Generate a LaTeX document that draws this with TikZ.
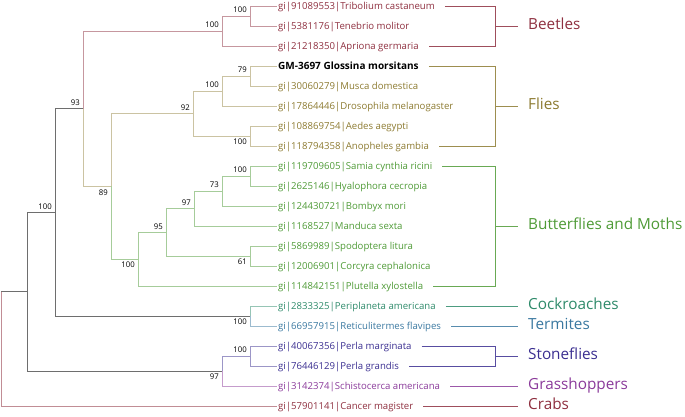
\documentclass[tikz,border=0pt]{standalone}
\usepackage{fontspec}
\setmainfont{Open Sans}
\usepackage{tikz}
\usetikzlibrary{calc}

\definecolor{beetle}{HTML}{8E2F3F}
\definecolor{fly}{HTML}{8C7A30}
\definecolor{moth}{HTML}{4E9A36}
\definecolor{roach}{HTML}{2E8A6A}
\definecolor{termite}{HTML}{3A78A0}
\definecolor{stone}{HTML}{3A2E90}
\definecolor{hopper}{HTML}{8A3A9A}
\definecolor{crab}{HTML}{8E2F3F}
\definecolor{stem}{HTML}{6E6E6E}

\begin{document}
\begin{tikzpicture}[
    x=1pt, y=-1pt,
    leaf/.style={anchor=west, inner sep=1pt, text height=1.6ex, text depth=0.45ex, font=\fontsize{9.6}{10}\selectfont},
    query/.style={leaf, font=\fontsize{10}{10}\selectfont\bfseries},
    clade/.style={anchor=west, inner sep=1pt, text height=1.6ex, text depth=0.3ex, font=\fontsize{15.3}{17}\selectfont},
    boot/.style={inner sep=0pt, font=\fontsize{7.8}{8}\selectfont},
    branch/.style={line width=0.8pt},
    bracket/.style={line width=1pt}
]
    \useasboundingbox (0,0) rectangle (685,416);

    \foreach \i/\lab/\col in {0/{gi|91089553|Tribolium castaneum}/beetle,
        1/{gi|5381176|Tenebrio molitor}/beetle,
        2/{gi|21218350|Apriona germaria}/beetle,
        4/{gi|30060279|Musca domestica}/fly,
        5/{gi|17864446|Drosophila melanogaster}/fly,
        6/{gi|108869754|Aedes aegypti}/fly,
        7/{gi|118794358|Anopheles gambia}/fly,
        8/{gi|119709605|Samia cynthia ricini}/moth,
        9/{gi|2625146|Hyalophora cecropia}/moth,
        10/{gi|124430721|Bombyx mori}/moth,
        11/{gi|1168527|Manduca sexta}/moth,
        12/{gi|5869989|Spodoptera litura}/moth,
        13/{gi|12006901|Corcyra cephalonica}/moth,
        14/{gi|114842151|Plutella xylostella}/moth,
        15/{gi|2833325|Periplaneta americana}/roach,
        16/{gi|66957915|Reticulitermes flavipes}/termite,
        17/{gi|40067356|Perla marginata}/stone,
        18/{gi|76446129|Perla grandis}/stone,
        19/{gi|3142374|Schistocerca americana}/hopper,
        20/{gi|57901141|Cancer magister}/crab} {
        \node[leaf, text=\col] (l\i) at (277,{6+20*\i}) {\lab};
    }
    \node[query] (l3) at (277,66) {GM-3697 Glossina morsitans};

    \foreach \n/\x/\y in {R/1/348.8, A/27/291.7, B/55/212.3, C/83/108.7, Be/222/31, Be2/250/16,
        D/111/186.3, F/193/113.5, F1/222/91, F0/250/76, F2/250/136, L/138/259.1, M/166/232.3,
        N/194/208.5, O/222/191, P/250/176, SC/250/256, CT/250/316, S/222/371, T/250/356} {
        \coordinate (\n) at (\x,\y);
    }

    \foreach \p/\c/\col in {R/A/stem, R/l20/crab!55, A/B/stem, A/S/stem, B/C/stem, B/CT/stem,
        C/Be/beetle!50, C/D/fly!45, Be/Be2/beetle!50, Be/l2/beetle!50, Be2/l0/beetle!50, Be2/l1/beetle!50,
        D/F/fly!45, D/L/moth!50, F/F1/fly!45, F/F2/fly!45, F1/F0/fly!45, F1/l5/fly!45,
        F0/l3/fly!45, F0/l4/fly!45, F2/l6/fly!45, F2/l7/fly!45,
        L/M/moth!50, L/l14/moth!50, M/N/moth!50, M/SC/moth!50, N/O/moth!50, N/l11/moth!50,
        O/P/moth!50, O/l10/moth!50, P/l8/moth!50, P/l9/moth!50, SC/l12/moth!50, SC/l13/moth!50,
        CT/l15/roach!50, CT/l16/termite!50, S/T/stone!50, S/l19/hopper!50,
        T/l17/stone!50, T/l18/stone!50} {
        \draw[branch, draw=\col] (\p) |- (\c);
    }
    \draw[branch, draw=crab!55] (R |- A) -- (R);

    \foreach \c/\v in {B/100, C/93, Be/100, Be2/100, F/92, F1/100, F0/79, M/95, N/97, O/73, P/100, T/100} {
        \node[boot, anchor=south east] (s\c) at ([shift={(-3,-3)}]\c) {\v};
    }
    \foreach \c/\v in {D/89, F2/100, L/100, SC/61, CT/100, S/97} {
        \node[boot, anchor=north east] (s\c) at ([shift={(-3,3)}]\c) {\v};
    }

    \coordinate (bx) at (495,0);
    \coordinate (lx) at (527,0);
    \foreach \a/\b/\lab/\col in {0/2/Beetles/beetle, 3/7/Flies/fly, 8/14/Butterflies and Moths/moth, 17/18/Stoneflies/stone} {
        \draw[bracket, draw=\col!85] ([xshift=9]l\a.east) -- (l\a.east -| bx) -- (l\b.east -| bx) -- ([xshift=9]l\b.east);
        \node[clade, text=\col] (c\a) at ($(l\a.east -| lx)!0.5!(l\b.east -| lx)$) {\lab};
        \draw[bracket, draw=\col!85] (c\a.west -| bx) -- ([xshift=-9]c\a.west);
    }
    \foreach \i/\lab/\col in {15/Cockroaches/roach, 16/Termites/termite, 19/Grasshoppers/hopper, 20/Crabs/crab} {
        \node[clade, text=\col] (c\i) at (l\i.east -| lx) {\lab};
        \draw[bracket, draw=\col!85] ([xshift=9]l\i.east) -- ([xshift=-9]c\i.west);
    }
\end{tikzpicture}
\end{document}
